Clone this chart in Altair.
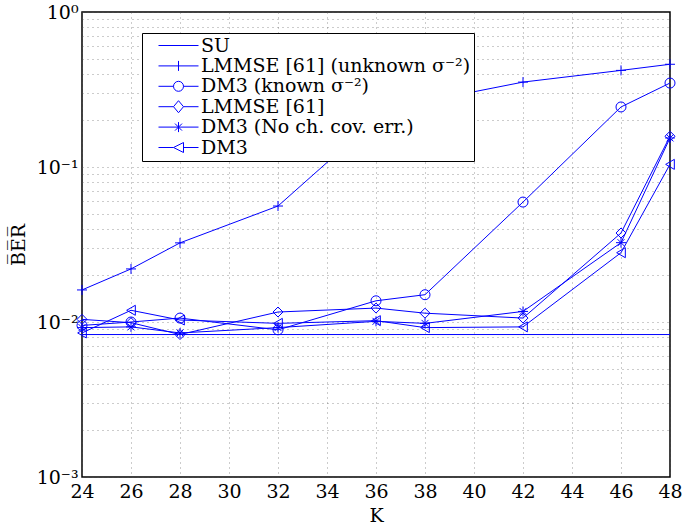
import altair as alt
import pandas as pd

K = [24, 26, 28, 32, 36, 38, 42, 46, 48]
series_names = [
    "SU",
    "LMMSE [61] (unknown σ⁻²)",
    "DM3 (known σ⁻²)",
    "LMMSE [61]",
    "DM3 (No ch. cov. err.)",
    "DM3",
]
ber_su = [0.0083, 0.0083, 0.0083, 0.0083, 0.0083, 0.0083, 0.0083, 0.0083, 0.0083]
ber_lmmse_unknown = [0.0161, 0.022, 0.0324, 0.056, 0.204, 0.265, 0.353, 0.42, 0.46]
ber_dm3_known = [0.0095, 0.0100, 0.0106, 0.0089, 0.0137, 0.0150, 0.0594, 0.244, 0.348]
ber_lmmse = [0.0104, 0.0099, 0.0083, 0.0116, 0.0123, 0.0114, 0.0106, 0.0375, 0.158]
ber_dm3_nocov = [0.0092, 0.0093, 0.0085, 0.0092, 0.0101, 0.0098, 0.0117, 0.0325, 0.154]
ber_dm3 = [0.0085, 0.0119, 0.0103, 0.0098, 0.0102, 0.0092, 0.0093, 0.028, 0.104]

x_ticks = [24, 26, 28, 30, 32, 34, 36, 38, 40, 42, 44, 46, 48]
y_decades = [0.001, 0.01, 0.1, 1]
y_ticks = [m * d for d in [0.001, 0.01, 0.1] for m in range(1, 10)] + [1]

all_series = [ber_su, ber_lmmse_unknown, ber_dm3_known, ber_lmmse, ber_dm3_nocov, ber_dm3]
rows = []
for name, vals in zip(series_names, all_series):
    for k, v in zip(K, vals):
        rows.append({"K": k, "BER": v, "series": name})
df = pd.DataFrame(rows)

BLUE = "#0000ff"
FONT = "DejaVu Serif"

plot_shapes = [
    "M0,0",
    "M-1,0H1M0,-1V1",
    "circle",
    "diamond",
    "M-1,0H1M0,-1V1M-0.7,-0.7L0.7,0.7M-0.7,0.7L0.7,-0.7",
    "triangle-left",
]
legend_shapes = [
    "M-4,0H4",
    "M-4,0H4M0,-1V1",
    "M-4,0H-1M1,0H4M-1,0A1,1 0 1,1 1,0A1,1 0 1,1 -1,0",
    "M-4,0H-1M1,0H4M-1,0L0,-1.2L1,0L0,1.2Z",
    "M-4,0H4M0,-1V1M-0.7,-0.7L0.7,0.7M-0.7,0.7L0.7,-0.7",
    "M-4,0H-1M1,0H4M-1,0L1,-1L1,1Z",
]

label_expr = ("datum.value == 1 ? '10⁰' : datum.value == 0.1 ? '10⁻¹' : "
              "datum.value == 0.01 ? '10⁻²' : datum.value == 0.001 ? '10⁻³' : ''")

x_enc = alt.X("K:Q", scale=alt.Scale(domain=[24, 48], nice=False),
              axis=alt.Axis(values=x_ticks, title="K", grid=True, ticks=False,
                            domain=False, labelFlush=False, labelPadding=5,
                            titlePadding=5))
y_enc = alt.Y("BER:Q", scale=alt.Scale(type="log", domain=[0.001, 1], nice=False),
              axis=alt.Axis(values=y_ticks, labelExpr=label_expr, title="B̅E̅R̅",
                            grid=True, ticks=False, domain=False, labelPadding=4,
                            titlePadding=8))

lines = alt.Chart(df).mark_line(color=BLUE, strokeWidth=1).encode(
    x=x_enc, y=y_enc, detail="series:N"
)

points = alt.Chart(df).transform_filter(alt.datum.series != "SU").mark_point(
    color=BLUE, filled=False, strokeWidth=1, size=100, opacity=1
).encode(
    x="K:Q",
    y="BER:Q",
    shape=alt.Shape(
        "series:N",
        scale=alt.Scale(domain=series_names, range=plot_shapes),
        legend=None,
    ),
)

legend_layer = alt.Chart(df).transform_filter("datum.K < 0").mark_point(
    color=BLUE, filled=False, strokeWidth=1, size=100, opacity=1
).encode(
    x="K:Q",
    y="BER:Q",
    shape=alt.Shape(
        "series:N",
        scale=alt.Scale(domain=series_names, range=legend_shapes),
        legend=alt.Legend(
            title=None,
            orient="none",
            legendX=60,
            legendY=21,
            fillColor="white",
            strokeColor="black",
            padding=3,
            labelFont=FONT,
            labelFontSize=19,
            labelColor="black",
            labelLimit=500,
            labelOffset=13,
            symbolOffset=24,
            symbolSize=100,
            symbolStrokeWidth=1,
            symbolStrokeColor=BLUE,
            symbolFillColor="transparent",
            symbolOpacity=1,
            rowPadding=0.4,
        ),
    ),
)

chart = alt.layer(lines, points, legend_layer).resolve_scale(
    shape="independent"
).resolve_legend(shape="independent").properties(
    width=588,
    height=465,
    background="white",
    autosize=alt.AutoSizeParams(type="none"),
    padding={"left": 82, "top": 12, "right": 14, "bottom": 52},
).configure_view(
    stroke="black", strokeWidth=1.5
).configure_axis(
    labelFont=FONT, labelFontSize=19, labelColor="black",
    titleFont=FONT, titleFontSize=19, titleFontWeight="normal", titleColor="black",
    gridColor="#555555", gridDash=[1, 4], gridWidth=1, gridOpacity=0.6,
)

chart.save("out.html", embed_options={"renderer": "svg", "actions": False})
